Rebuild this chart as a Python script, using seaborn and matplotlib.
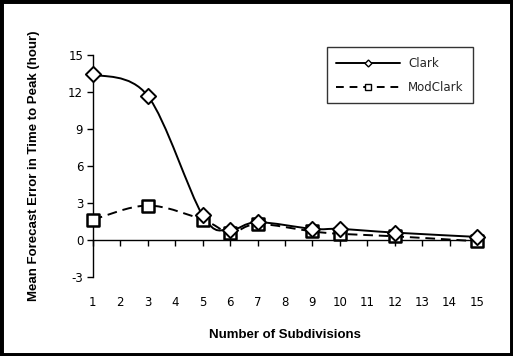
import matplotlib
matplotlib.use("Agg")
import matplotlib.pyplot as plt
import seaborn as sns
import pandas as pd
from matplotlib.path import Path
from matplotlib.patches import PathPatch, Rectangle
from matplotlib.lines import Line2D

# values
subdivisions = [1, 3, 5, 6, 7, 9, 10, 12, 15]
clark = [13.45, 11.7, 2.0, 0.85, 1.45, 0.9, 0.9, 0.6, 0.25]
modclark = [1.65, 2.8, 1.65, 0.6, 1.3, 0.7, 0.5, 0.3, -0.1]
x_ticks = list(range(1, 16))
y_ticks = [-3, 0, 3, 6, 9, 12, 15]

df = pd.DataFrame({"Subdivisions": subdivisions * 2,
                   "Error": clark + modclark,
                   "Model": ["Clark"] * len(clark) + ["ModClark"] * len(modclark)})

sns.set_style("white")
plt.rcParams['font.family'] = ['DejaVu Sans']
plt.rcParams['axes.unicode_minus'] = False


def smooth_path(xs, ys):
    # Excel-like smoothed line: cubic bezier through the points
    pts = list(zip(xs, ys))
    verts = [pts[0]]
    codes = [Path.MOVETO]
    n = len(pts)
    for i in range(n - 1):
        p0 = pts[i - 1] if i > 0 else pts[i]
        p1 = pts[i]
        p2 = pts[i + 1]
        p3 = pts[i + 2] if i + 2 < n else pts[i + 1]
        c1 = (p1[0] + (p2[0] - p0[0]) / 6, p1[1] + (p2[1] - p0[1]) / 6)
        c2 = (p2[0] - (p3[0] - p1[0]) / 6, p2[1] - (p3[1] - p1[1]) / 6)
        verts += [c1, c2, p2]
        codes += [Path.CURVE4] * 3
    return Path(verts, codes)


fig = plt.figure(figsize=(5.13, 3.56), dpi=100)
ax = fig.add_axes([0.181, 0.222, 0.749, 0.623])

line_styles = {"Clark": "-", "ModClark": (0, (5, 3))}
for name, ys in [("Clark", clark), ("ModClark", modclark)]:
    ax.add_patch(PathPatch(smooth_path(subdivisions, ys), fill=False, clip_on=False,
                           edgecolor="black", lw=1.4, linestyle=line_styles[name], zorder=2))

sub = df[df["Model"] == "ModClark"]
sns.scatterplot(data=sub, x="Subdivisions", y="Error", marker="s", s=70,
                facecolor="white", edgecolor="black", linewidth=1.8, ax=ax,
                zorder=3, legend=False, clip_on=False)
sub = df[df["Model"] == "Clark"]
sns.scatterplot(data=sub, x="Subdivisions", y="Error", marker="D", s=60,
                facecolor="white", edgecolor="black", linewidth=1.4, ax=ax,
                zorder=4, legend=False, clip_on=False)

ax.set_xlim(1, 15)
ax.set_ylim(-3, 15)
ax.set_xticks(x_ticks)
ax.set_yticks(y_ticks)
ax.set_xticklabels([str(v) for v in x_ticks])

for s in ["top", "right"]:
    ax.spines[s].set_visible(False)
ax.spines["left"].set_color("black")
ax.spines["left"].set_linewidth(1.0)
ax.spines["bottom"].set_position(("data", 0))
ax.spines["bottom"].set_color("black")
ax.spines["bottom"].set_linewidth(1.0)

ax.tick_params(axis="y", direction="out", length=4, width=1, color="black",
               labelsize=8.5, labelcolor="black", left=True, pad=3)
ax.tick_params(axis="x", direction="out", length=4, width=1, color="black",
               labelsize=8.5, labelcolor="black", bottom=True, pad=36)

label_font = dict(fontsize=9.5, fontweight="bold", color="black",
                  family=["Liberation Sans", "DejaVu Sans"])
ax.set_xlabel("Number of Subdivisions", labelpad=15, **label_font)
ax.set_ylabel("Mean Forecast Error in Time to Peak (hour)", labelpad=20, **label_font)

handles = [Line2D([], [], color="black", lw=1.4, ls="-", marker="D", ms=3.5,
                  markerfacecolor="white", markeredgecolor="black"),
           Line2D([], [], color="black", lw=1.4, ls=(0, (4, 3)), marker="s", ms=4.5,
                  markerfacecolor="white", markeredgecolor="black")]
leg = ax.legend(handles, ["Clark", "ModClark"], loc="upper left",
                bbox_to_anchor=(0.609, 1.036), borderaxespad=0, fontsize=8.5,
                frameon=True, fancybox=False, edgecolor="black", handlelength=5.4,
                labelspacing=0.95, borderpad=0.8, handletextpad=0.7)
leg.get_frame().set_linewidth(1.0)

fig.patches.append(Rectangle((0, 0), 1, 1, transform=fig.transFigure, fill=False,
                             edgecolor="black", lw=5, zorder=10))

fig.savefig("out.png", dpi=100)
